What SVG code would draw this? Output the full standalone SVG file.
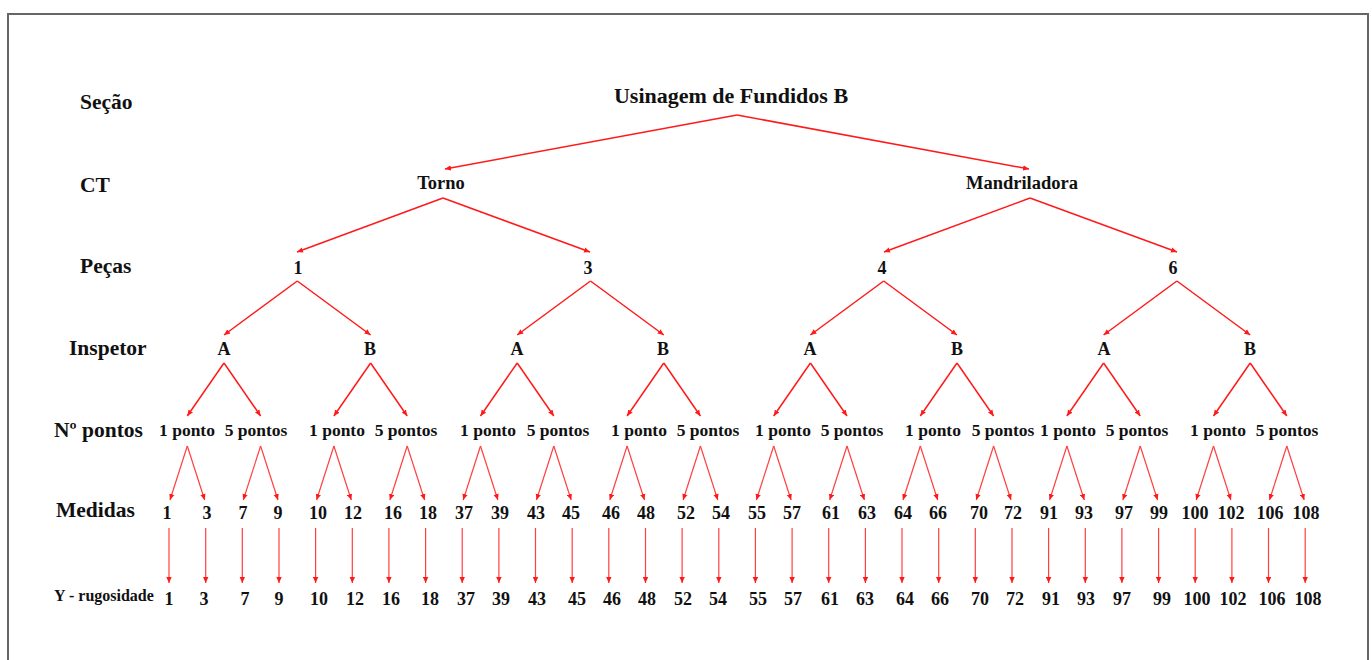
<svg xmlns="http://www.w3.org/2000/svg" width="1372" height="660" viewBox="0 0 1372 660">
<style>
text{font-family:"Liberation Serif","Times New Roman",serif;font-weight:bold;fill:#111}
.lab{font-size:21.5px}
.root{font-size:22px;text-anchor:middle}
.ct{font-size:18.5px;text-anchor:middle}
.n{font-size:18px;text-anchor:middle}
.pt{font-size:17.5px;text-anchor:middle}
.yl{font-size:16px}
.c line{stroke:#ff1a1a;stroke-width:1.5;marker-end:url(#ah)}
.c .v line{stroke:#ff4040;stroke-width:1.2}
</style>
<defs>
<marker id="ah" markerUnits="userSpaceOnUse" markerWidth="7" markerHeight="6" refX="6" refY="3" orient="auto">
<path d="M0,0.3 L6,3 L0,5.7 z" fill="#ff1a1a"/>
</marker>
</defs>
<rect x="0" y="0" width="1372" height="660" fill="#fff"/>
<path d="M8,670 L8,14 L1368,14 L1368,670" fill="none" stroke="#666" stroke-width="2"/>
<g id="labels">
<text class="lab" x="80" y="109">Seção</text>
<text class="lab" x="80" y="192">CT</text>
<text class="lab" x="80" y="273">Peças</text>
<text class="lab" x="69" y="355">Inspetor</text>
<text class="lab" x="54" y="437">Nº pontos</text>
<text class="lab" x="56" y="517">Medidas</text>
<text class="yl" x="54" y="601">Y - rugosidade</text>
</g>
<g id="n-root"><text class="root" x="731" y="103">Usinagem de Fundidos B</text></g>
<g id="n-torno"><text class="ct" x="441" y="189">Torno</text></g>
<g id="n-mandriladora"><text class="ct" x="1022" y="189">Mandriladora</text></g>
<g id="n-pecas">
<text class="n" x="298" y="274">1</text>
<text class="n" x="588" y="274">3</text>
<text class="n" x="882" y="274">4</text>
<text class="n" x="1173" y="274">6</text>
</g>
<g id="n-inspetor">
<text class="n" x="224" y="355">A</text>
<text class="n" x="370" y="355">B</text>
<text class="n" x="517" y="355">A</text>
<text class="n" x="663" y="355">B</text>
<text class="n" x="810" y="355">A</text>
<text class="n" x="957" y="355">B</text>
<text class="n" x="1104" y="355">A</text>
<text class="n" x="1250" y="355">B</text>
</g>
<g id="n-pontos">
<text class="pt" x="187" y="436">1 ponto</text>
<text class="pt" x="256" y="436">5 pontos</text>
<text class="pt" x="337" y="436">1 ponto</text>
<text class="pt" x="406" y="436">5 pontos</text>
<text class="pt" x="488" y="436">1 ponto</text>
<text class="pt" x="558" y="436">5 pontos</text>
<text class="pt" x="639" y="436">1 ponto</text>
<text class="pt" x="708" y="436">5 pontos</text>
<text class="pt" x="783" y="436">1 ponto</text>
<text class="pt" x="852" y="436">5 pontos</text>
<text class="pt" x="933" y="436">1 ponto</text>
<text class="pt" x="1003" y="436">5 pontos</text>
<text class="pt" x="1068" y="436">1 ponto</text>
<text class="pt" x="1137" y="436">5 pontos</text>
<text class="pt" x="1218" y="436">1 ponto</text>
<text class="pt" x="1287" y="436">5 pontos</text>
</g>
<g id="n-medidas">
<text class="n" x="167" y="519">1</text>
<text class="n" x="207" y="519">3</text>
<text class="n" x="243" y="519">7</text>
<text class="n" x="278" y="519">9</text>
<text class="n" x="318" y="519">10</text>
<text class="n" x="353" y="519">12</text>
<text class="n" x="393" y="519">16</text>
<text class="n" x="428" y="519">18</text>
<text class="n" x="464" y="519">37</text>
<text class="n" x="500" y="519">39</text>
<text class="n" x="536" y="519">43</text>
<text class="n" x="571" y="519">45</text>
<text class="n" x="611" y="519">46</text>
<text class="n" x="646" y="519">48</text>
<text class="n" x="686" y="519">52</text>
<text class="n" x="721" y="519">54</text>
<text class="n" x="757" y="519">55</text>
<text class="n" x="792" y="519">57</text>
<text class="n" x="831" y="519">61</text>
<text class="n" x="867" y="519">63</text>
<text class="n" x="903" y="519">64</text>
<text class="n" x="938" y="519">66</text>
<text class="n" x="979" y="519">70</text>
<text class="n" x="1013" y="519">72</text>
<text class="n" x="1049" y="519">91</text>
<text class="n" x="1084" y="519">93</text>
<text class="n" x="1124" y="519">97</text>
<text class="n" x="1159" y="519">99</text>
<text class="n" x="1195" y="519">100</text>
<text class="n" x="1231" y="519">102</text>
<text class="n" x="1270" y="519">106</text>
<text class="n" x="1306" y="519">108</text>
</g>
<g id="n-rugosidade">
<text class="n" x="169" y="605">1</text>
<text class="n" x="204" y="605">3</text>
<text class="n" x="245" y="605">7</text>
<text class="n" x="279" y="605">9</text>
<text class="n" x="319" y="605">10</text>
<text class="n" x="355" y="605">12</text>
<text class="n" x="391" y="605">16</text>
<text class="n" x="430" y="605">18</text>
<text class="n" x="466" y="605">37</text>
<text class="n" x="501" y="605">39</text>
<text class="n" x="537" y="605">43</text>
<text class="n" x="577" y="605">45</text>
<text class="n" x="612" y="605">46</text>
<text class="n" x="647" y="605">48</text>
<text class="n" x="683" y="605">52</text>
<text class="n" x="718" y="605">54</text>
<text class="n" x="758" y="605">55</text>
<text class="n" x="793" y="605">57</text>
<text class="n" x="830" y="605">61</text>
<text class="n" x="865" y="605">63</text>
<text class="n" x="905" y="605">64</text>
<text class="n" x="940" y="605">66</text>
<text class="n" x="980" y="605">70</text>
<text class="n" x="1015" y="605">72</text>
<text class="n" x="1051" y="605">91</text>
<text class="n" x="1086" y="605">93</text>
<text class="n" x="1122" y="605">97</text>
<text class="n" x="1162" y="605">99</text>
<text class="n" x="1197" y="605">100</text>
<text class="n" x="1233" y="605">102</text>
<text class="n" x="1272" y="605">106</text>
<text class="n" x="1308" y="605">108</text>
</g>
<g id="connectors" class="c">
<line x1="737" y1="115" x2="445" y2="169"/>
<line x1="737" y1="115" x2="1029" y2="169"/>
<line x1="443" y1="198" x2="297" y2="252"/>
<line x1="443" y1="198" x2="590" y2="252"/>
<line x1="1030" y1="198" x2="884" y2="252"/>
<line x1="1030" y1="198" x2="1177" y2="252"/>
<line x1="297.3" y1="281" x2="224" y2="335"/>
<line x1="297.3" y1="281" x2="370.6" y2="335"/>
<line x1="590.5" y1="281" x2="517.2" y2="335"/>
<line x1="590.5" y1="281" x2="663.8" y2="335"/>
<line x1="883.7" y1="281" x2="810.4" y2="335"/>
<line x1="883.7" y1="281" x2="957" y2="335"/>
<line x1="1176.9" y1="281" x2="1103.6" y2="335"/>
<line x1="1176.9" y1="281" x2="1250.2" y2="335"/>
<line x1="224" y1="363" x2="187.3" y2="416"/>
<line x1="224" y1="363" x2="260.6" y2="416"/>
<line x1="370.6" y1="363" x2="333.9" y2="416"/>
<line x1="370.6" y1="363" x2="407.2" y2="416"/>
<line x1="517.2" y1="363" x2="480.5" y2="416"/>
<line x1="517.2" y1="363" x2="553.8" y2="416"/>
<line x1="663.8" y1="363" x2="627.1" y2="416"/>
<line x1="663.8" y1="363" x2="700.4" y2="416"/>
<line x1="810.4" y1="363" x2="773.7" y2="416"/>
<line x1="810.4" y1="363" x2="847" y2="416"/>
<line x1="957" y1="363" x2="920.3" y2="416"/>
<line x1="957" y1="363" x2="993.6" y2="416"/>
<line x1="1103.6" y1="363" x2="1066.9" y2="416"/>
<line x1="1103.6" y1="363" x2="1140.2" y2="416"/>
<line x1="1250.2" y1="363" x2="1213.5" y2="416"/>
<line x1="1250.2" y1="363" x2="1286.8" y2="416"/>
<g class="v">
<line x1="187.3" y1="446" x2="170" y2="500"/>
<line x1="187.3" y1="446" x2="204.7" y2="500"/>
<line x1="260.6" y1="446" x2="243.3" y2="500"/>
<line x1="260.6" y1="446" x2="278" y2="500"/>
<line x1="333.9" y1="446" x2="316.6" y2="500"/>
<line x1="333.9" y1="446" x2="351.3" y2="500"/>
<line x1="407.2" y1="446" x2="389.9" y2="500"/>
<line x1="407.2" y1="446" x2="424.6" y2="500"/>
<line x1="480.5" y1="446" x2="463.2" y2="500"/>
<line x1="480.5" y1="446" x2="497.9" y2="500"/>
<line x1="553.8" y1="446" x2="536.5" y2="500"/>
<line x1="553.8" y1="446" x2="571.2" y2="500"/>
<line x1="627.1" y1="446" x2="609.8" y2="500"/>
<line x1="627.1" y1="446" x2="644.5" y2="500"/>
<line x1="700.4" y1="446" x2="683.1" y2="500"/>
<line x1="700.4" y1="446" x2="717.8" y2="500"/>
<line x1="773.7" y1="446" x2="756.4" y2="500"/>
<line x1="773.7" y1="446" x2="791.1" y2="500"/>
<line x1="847" y1="446" x2="829.7" y2="500"/>
<line x1="847" y1="446" x2="864.4" y2="500"/>
<line x1="920.3" y1="446" x2="903" y2="500"/>
<line x1="920.3" y1="446" x2="937.7" y2="500"/>
<line x1="993.6" y1="446" x2="976.3" y2="500"/>
<line x1="993.6" y1="446" x2="1011" y2="500"/>
<line x1="1066.9" y1="446" x2="1049.6" y2="500"/>
<line x1="1066.9" y1="446" x2="1084.3" y2="500"/>
<line x1="1140.2" y1="446" x2="1122.9" y2="500"/>
<line x1="1140.2" y1="446" x2="1157.6" y2="500"/>
<line x1="1213.5" y1="446" x2="1196.2" y2="500"/>
<line x1="1213.5" y1="446" x2="1230.9" y2="500"/>
<line x1="1286.8" y1="446" x2="1269.5" y2="500"/>
<line x1="1286.8" y1="446" x2="1304.2" y2="500"/>
<line x1="169" y1="528" x2="169" y2="583"/>
<line x1="205.7" y1="528" x2="205.7" y2="583"/>
<line x1="242.3" y1="528" x2="242.3" y2="583"/>
<line x1="279" y1="528" x2="279" y2="583"/>
<line x1="315.6" y1="528" x2="315.6" y2="583"/>
<line x1="352.3" y1="528" x2="352.3" y2="583"/>
<line x1="388.9" y1="528" x2="388.9" y2="583"/>
<line x1="425.6" y1="528" x2="425.6" y2="583"/>
<line x1="462.2" y1="528" x2="462.2" y2="583"/>
<line x1="498.9" y1="528" x2="498.9" y2="583"/>
<line x1="535.5" y1="528" x2="535.5" y2="583"/>
<line x1="572.2" y1="528" x2="572.2" y2="583"/>
<line x1="608.8" y1="528" x2="608.8" y2="583"/>
<line x1="645.5" y1="528" x2="645.5" y2="583"/>
<line x1="682.1" y1="528" x2="682.1" y2="583"/>
<line x1="718.8" y1="528" x2="718.8" y2="583"/>
<line x1="755.4" y1="528" x2="755.4" y2="583"/>
<line x1="792.1" y1="528" x2="792.1" y2="583"/>
<line x1="828.7" y1="528" x2="828.7" y2="583"/>
<line x1="865.4" y1="528" x2="865.4" y2="583"/>
<line x1="902" y1="528" x2="902" y2="583"/>
<line x1="938.7" y1="528" x2="938.7" y2="583"/>
<line x1="975.3" y1="528" x2="975.3" y2="583"/>
<line x1="1012" y1="528" x2="1012" y2="583"/>
<line x1="1048.6" y1="528" x2="1048.6" y2="583"/>
<line x1="1085.3" y1="528" x2="1085.3" y2="583"/>
<line x1="1121.9" y1="528" x2="1121.9" y2="583"/>
<line x1="1158.6" y1="528" x2="1158.6" y2="583"/>
<line x1="1195.2" y1="528" x2="1195.2" y2="583"/>
<line x1="1231.9" y1="528" x2="1231.9" y2="583"/>
<line x1="1268.5" y1="528" x2="1268.5" y2="583"/>
<line x1="1305.2" y1="528" x2="1305.2" y2="583"/>
</g>
</g>
</svg>
